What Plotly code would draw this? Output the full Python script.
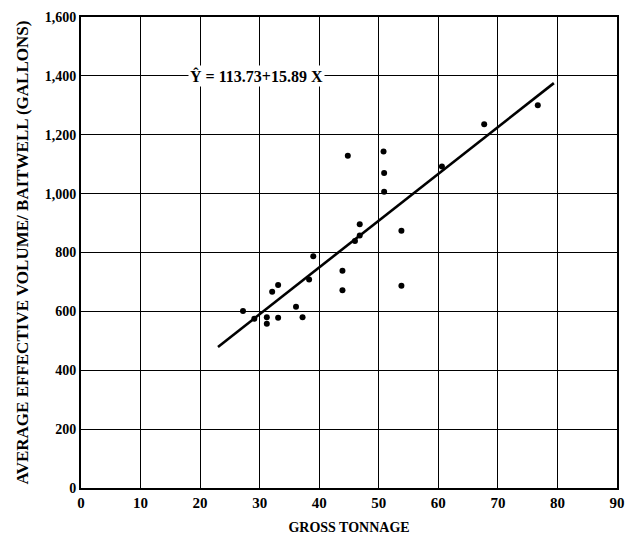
import plotly.graph_objects as go

# Data
tonnage = [27.2, 29.1, 31.2, 31.2, 32.1, 33.1, 33.1, 36.1, 37.2, 38.3, 39.0,
           43.9, 43.9, 44.8, 46.0, 46.8, 46.8, 50.8, 50.9, 50.9, 53.8, 53.8,
           60.6, 67.7, 76.7]
volume = [601, 575, 580, 558, 667, 690, 578, 616, 580, 708, 787,
          738, 672, 1129, 839, 858, 896, 1143, 1070, 1006, 874, 687,
          1092, 1236, 1300]

intercept = 113.73
slope = 15.89
fit_x = [23.0, 79.4]
fit_y = [intercept + slope * x for x in fit_x]

x_ticks = [0, 10, 20, 30, 40, 50, 60, 70, 80, 90]
y_ticks = [0, 200, 400, 600, 800, 1000, 1200, 1400, 1600]
y_tick_labels = ["0", "200", "400", "600", "800", "1,000", "1,200", "1,400", "1,600"]

FONT = "Liberation Serif"

fig = go.Figure()
fig.add_trace(go.Scatter(x=fit_x, y=fit_y, mode="lines",
                         line=dict(color="black", width=2.6),
                         showlegend=False, hoverinfo="skip"))
fig.add_trace(go.Scatter(x=tonnage, y=volume, mode="markers",
                         marker=dict(color="black", size=6),
                         showlegend=False))

fig.add_annotation(x=29.5, y=1400, text="Ŷ = 113.73+15.89 X", showarrow=False,
                   font=dict(family=FONT, size=16, color="black", weight="bold"),
                   bgcolor="white", xanchor="center", yanchor="middle")

fig.update_xaxes(range=[0, 90], tickvals=x_ticks, ticktext=[str(v) for v in x_ticks],
                 showgrid=True, gridcolor="black", gridwidth=1.3,
                 showline=True, linecolor="black", linewidth=2, mirror=True,
                 zeroline=False, ticks="", ticklen=0,
                 tickfont=dict(family=FONT, size=15, color="black", weight="bold"),
                 title=dict(text="GROSS TONNAGE", standoff=12,
                            font=dict(family=FONT, size=14, color="black", weight="bold")))
fig.update_yaxes(range=[0, 1600], tickvals=y_ticks, ticktext=y_tick_labels,
                 showgrid=True, gridcolor="black", gridwidth=1.3,
                 showline=True, linecolor="black", linewidth=2, mirror=True,
                 zeroline=False, ticks="", ticklen=0,
                 tickfont=dict(family=FONT, size=14, color="black", weight="bold"),
                 title=dict(text="AVERAGE EFFECTIVE VOLUME/ BAITWELL (GALLONS)", standoff=12,
                            font=dict(family=FONT, size=17, color="black", weight="bold")))

fig.update_layout(width=635, height=543, margin=dict(l=81, r=10, t=15, b=46),
                  plot_bgcolor="white", paper_bgcolor="white")

fig.write_html("out.html")
